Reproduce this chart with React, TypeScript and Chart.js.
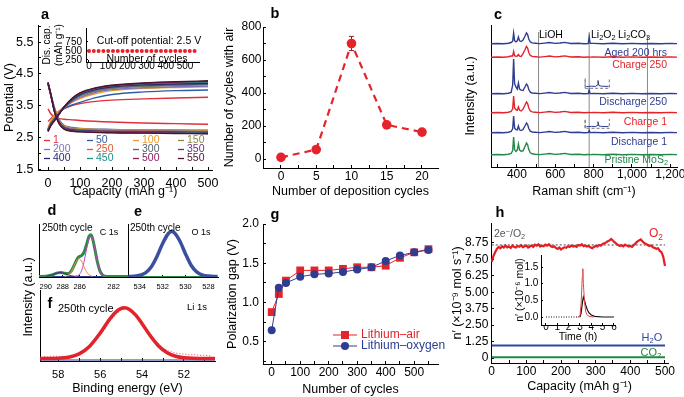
import React, { useEffect, useRef } from 'react';
import { Chart, registerables } from 'chart.js';

Chart.register(...registerables);

const FONT = "'Liberation Sans', Arial, Helvetica, sans-serif";
Chart.defaults.font.family = FONT;

const RED = '#e4232b';
const BLUE = '#2e3d8f';
const GREEN = '#23894a';

// ---------------- Panel a ----------------
const aCycles = ['1', '50', '100', '150', '200', '250', '300', '350', '400', '450', '500', '550'];
const aColors = ['#e0303a', '#2f5f9f', '#f39a2a', '#8c8a45', '#7f72b8', '#d65a32', '#56636e', '#6b2f7f', '#1f2d6e', '#1f8f86', '#8b1d5f', '#4d1230'];
const aChargeX = [0, 10, 25, 50, 75, 100, 150, 200, 300, 400, 500];
const aCh1 = [3.0, 3.1, 3.25, 3.4, 3.5, 3.56, 3.63, 3.67, 3.71, 3.74, 3.76];
const aCh50 = [2.75, 2.95, 3.15, 3.4, 3.52, 3.6, 3.75, 3.85, 3.93, 3.97, 3.99];
const aCh100 = [2.8, 3.05, 3.25, 3.45, 3.6, 3.72, 3.88, 3.97, 4.04, 4.07, 4.09];
const aCh150 = [2.75, 2.98, 3.18, 3.45, 3.65, 3.8, 3.95, 4.03, 4.1, 4.13, 4.15];
const aCh200 = [2.74, 2.95, 3.15, 3.42, 3.62, 3.76, 3.92, 4.0, 4.06, 4.09, 4.11];
const aCh250 = [2.72, 2.93, 3.13, 3.45, 3.68, 3.84, 4.0, 4.08, 4.15, 4.18, 4.2];
const aCh300 = [2.73, 2.94, 3.14, 3.44, 3.66, 3.82, 3.98, 4.06, 4.12, 4.15, 4.17];
const aCh350 = [2.71, 2.91, 3.11, 3.45, 3.7, 3.87, 4.03, 4.11, 4.18, 4.21, 4.23];
const aCh400 = [2.72, 2.92, 3.12, 3.44, 3.68, 3.85, 4.01, 4.09, 4.15, 4.18, 4.2];
const aCh450 = [2.7, 2.9, 3.1, 3.45, 3.71, 3.88, 4.04, 4.12, 4.19, 4.22, 4.24];
const aCh500 = [2.69, 2.89, 3.09, 3.45, 3.72, 3.89, 4.05, 4.13, 4.2, 4.24, 4.26];
const aCh550 = [2.68, 2.88, 3.08, 3.45, 3.72, 3.9, 4.06, 4.14, 4.21, 4.25, 4.28];
const aCharge = [aCh1, aCh50, aCh100, aCh150, aCh200, aCh250, aCh300, aCh350, aCh400, aCh450, aCh500, aCh550];

const aDischargeX = [0, 8, 20, 35, 50, 75, 100, 200, 300, 400, 500];
const aDc1 = [3.4, 3.25, 3.14, 3.09, 3.07, 3.05, 3.03, 2.98, 2.95, 2.93, 2.91];
const aDc50 = [4.2, 3.9, 3.45, 3.05, 2.88, 2.81, 2.78, 2.75, 2.74, 2.73, 2.72];
const aDc100 = [4.15, 3.85, 3.4, 3.02, 2.86, 2.79, 2.77, 2.74, 2.73, 2.72, 2.71];
const aDc150 = [4.2, 3.88, 3.4, 3.0, 2.84, 2.77, 2.75, 2.72, 2.71, 2.7, 2.69];
const aDc200 = [4.18, 3.86, 3.38, 2.99, 2.83, 2.76, 2.74, 2.71, 2.7, 2.69, 2.68];
const aDc250 = [4.2, 3.87, 3.37, 2.98, 2.82, 2.75, 2.73, 2.7, 2.69, 2.68, 2.67];
const aDc300 = [4.2, 3.86, 3.36, 2.97, 2.81, 2.74, 2.72, 2.69, 2.68, 2.67, 2.66];
const aDc350 = [4.22, 3.88, 3.35, 2.96, 2.8, 2.73, 2.71, 2.68, 2.67, 2.66, 2.65];
const aDc400 = [4.21, 3.87, 3.34, 2.95, 2.79, 2.72, 2.7, 2.67, 2.66, 2.65, 2.64];
const aDc450 = [4.22, 3.88, 3.33, 2.94, 2.78, 2.71, 2.69, 2.66, 2.65, 2.64, 2.63];
const aDc500 = [4.22, 3.88, 3.32, 2.93, 2.77, 2.7, 2.68, 2.65, 2.64, 2.63, 2.62];
const aDc550 = [4.23, 3.89, 3.31, 2.92, 2.76, 2.69, 2.67, 2.64, 2.63, 2.62, 2.61];
const aDischarge = [aDc1, aDc50, aDc100, aDc150, aDc200, aDc250, aDc300, aDc350, aDc400, aDc450, aDc500, aDc550];

const aXTicks = [0, 50, 100, 150, 200, 250, 300, 350, 400, 450, 500];
const aXLabels = ['0', '', '100', '', '200', '', '300', '', '400', '', '500'];
const aYTicks = [1.5, 2, 2.5, 3, 3.5, 4, 4.5, 5, 5.5, 6];
const aYLabels = ['1.5', '', '2.5', '', '3.5', '', '4.5', '', '5.5', ''];

const aInsetCycles = [0, 25, 50, 75, 100, 125, 150, 175, 200, 225, 250, 275, 300, 325, 350, 375, 400, 425, 450, 475, 500, 525, 550];
const aInsetCap = [500, 500, 500, 500, 500, 500, 500, 500, 500, 500, 500, 500, 500, 500, 500, 500, 500, 500, 500, 500, 500, 500, 500];
const aInsetXTicks = [0, 100, 200, 300, 400, 500];
const aInsetXLabels = ['0', '100', '200', '300', '400', '500'];
const aInsetYTicks = [250, 500, 750];
const aInsetYLabels = ['250', '500', '750'];

// ---------------- Panel b ----------------
const bDeposition = [0, 5, 10, 15, 20];
const bCycles = [10, 57, 700, 207, 163];
const bErr = [0, 0, 43, 0, 0];
const bXTicks = [0, 2.5, 5, 7.5, 10, 12.5, 15, 17.5, 20];
const bXLabels = ['0', '', '5', '', '10', '', '15', '', '20'];
const bYTicks = [0, 100, 200, 300, 400, 500, 600, 700, 800];
const bYLabels = ['0', '', '200', '', '400', '', '600', '', '800'];

// ---------------- Panel c ----------------
const cShift = [265, 300, 330, 355, 370, 378, 383, 388, 395, 402, 408, 414, 422, 432, 442, 450, 456, 462, 470, 480, 495, 520, 545, 570, 600, 625, 650, 680, 720, 750, 772, 777, 782, 800, 850, 900, 950, 1000, 1050, 1100, 1150, 1200, 1235];
const cPristine = [12.3, 12.5, 12.2, 12.8, 13.5, 16.5, 30, 17.4, 15.6, 16.95, 23, 16.95, 15.85, 16.2, 20.4, 24, 22.2, 17.4, 14.2, 13.2, 12.8, 12.4, 12.9, 13.5, 12.6, 13, 13.6, 12.5, 12.7, 12.3, 12.5, 12.5, 12.4, 12.6, 12.3, 12.7, 12.3, 12.6, 12.2, 12.5, 12.3, 12.6, 12.4];
const cDischarge1 = [34.3, 34.5, 34.2, 34.8, 35.5, 38.25, 51, 39.1, 37.4, 37.15, 41, 37.15, 36.45, 37.5, 41, 44, 42.5, 38.5, 35.8, 35, 34.8, 34.4, 34.9, 35.5, 34.6, 35, 35.6, 34.5, 34.7, 34.3, 34.5, 36.5, 34.4, 34.6, 34.3, 34.7, 34.3, 34.6, 34.2, 34.5, 34.3, 34.6, 34.4];
const cCharge1 = [54.3, 54.5, 54.2, 54.8, 55.5, 58.25, 71, 59.1, 57.4, 56.7, 60, 56.7, 56.1, 57.85, 61.7, 65, 63.35, 58.95, 56, 55.1, 54.8, 54.4, 54.9, 55.5, 54.6, 55, 55.6, 54.5, 54.7, 54.3, 54.5, 54.5, 54.4, 54.6, 54.3, 54.7, 54.3, 54.6, 54.2, 54.5, 54.3, 54.6, 54.4];
const cDischarge250 = [73.3, 73.5, 73.2, 73.8, 74.5, 81.75, 108, 83.5, 80, 77.95, 84, 77.95, 76.85, 76.5, 80, 83, 81.5, 77.5, 74.8, 74, 73.8, 73.4, 73.9, 74.5, 73.6, 74, 74.6, 73.5, 73.7, 73.3, 73.5, 77, 73.4, 73.6, 73.3, 73.7, 73.3, 73.6, 73.2, 73.5, 73.3, 73.6, 73.4];
const cCharge250 = [109.8, 110, 109.7, 110.3, 111, 111, 115.5, 111.3, 110.7, 110.85, 112.5, 110.85, 110.55, 113.35, 117.2, 120.5, 118.85, 114.45, 111.5, 110.6, 110.3, 109.9, 110.4, 111, 110.1, 110.5, 111.1, 110, 110.2, 109.8, 110, 109.9, 109.9, 110.1, 109.8, 110.2, 109.8, 110.1, 109.7, 110, 109.8, 110.1, 109.9];
const cAged = [123.3, 123.5, 123.2, 123.8, 124.5, 125.75, 134, 126.3, 125.2, 126.15, 130, 126.15, 125.45, 126.85, 130.7, 134, 132.35, 127.95, 125, 124.1, 123.8, 123.4, 123.9, 124.5, 123.6, 124, 124.6, 123.5, 123.7, 123.3, 123.5, 130, 123.6, 123.6, 123.3, 123.7, 123.3, 123.6, 123.2, 123.5, 123.3, 123.6, 123.4];
const cRefShift = [513, 777, 1081];
const cRefTop = [135, 135, 131];
const cBoxX = [756, 882, 882, 756, 756];
const cBox1Y = [78.7, 78.7, 88.7, 88.7, 78.7];
const cBox2Y = [38.7, 38.7, 48, 48, 38.7];
const cMiniX = [762, 790, 812, 818, 823, 828, 840, 878];
const cMini1 = [80.5, 80.8, 80.6, 82, 86.5, 81.5, 80.8, 80.6];
const cMini2 = [40.3, 40.6, 40.4, 41.5, 45.3, 41, 40.6, 40.4];
const cXTicks = [300, 400, 500, 600, 700, 800, 900, 1000, 1100, 1200];
const cXLabels = ['', '400', '', '600', '', '800', '', '1,000', '', '1,200'];

// ---------------- Panel d ----------------
const dEnergy = [290.8, 290, 289.5, 289, 288.6, 288.2, 287.8, 287.4, 287, 286.6, 286.3, 286.1, 285.8, 285.5, 285.2, 284.9, 284.7, 284.5, 284.2, 283.9, 283.6, 283.3, 283, 282.5, 282, 281, 280.3];
const dTotal = [0.1, 0.2, 0.95, 2.45, 3.65, 3.96, 3.25, 2.85, 5.44, 12.2, 17.4, 19.6, 20.9, 24.0, 31.7, 40.0, 41.7, 38.65, 27.0, 14.1, 5.4, 1.56, 0.34, 0.1, 0, 0, 0];
const dOrangeX = [287.8, 287.4, 287, 286.6, 286.3, 286.1, 285.8, 285.5, 285.2, 284.9, 284.7, 284.5];
const dOrange = [0.15, 1.07, 4.7, 11.9, 16.8, 18, 15.5, 9.9, 4.7, 1.6, 0.68, 0.25];
const dMagentaX = [286.6, 286.3, 286.1, 285.8, 285.5, 285.2, 284.9, 284.7, 284.5, 284.2, 283.9, 283.6, 283.3, 283];
const dMagenta = [0.1, 0.57, 1.56, 5.4, 14.1, 27, 38.4, 41, 38.4, 27, 14.1, 5.4, 1.56, 0.34];
const dPurpleX = [290, 289.5, 289, 288.6, 288.2, 287.8, 287.4, 287, 286.6, 286.3];
const dPurple = [0.22, 0.95, 2.45, 3.65, 3.96, 3.1, 1.78, 0.74, 0.22, 0.07];
const dBaseX = [290.8, 280.3];
const dBase = [0, 0];
const dXTicks = [290, 288, 286, 284, 282];
const dXLabels = ['290', '288', '286', '', '282'];

// ---------------- Panel e ----------------
const eEnergy = [535, 534.5, 534, 533.5, 533, 532.5, 532, 531.5, 531.2, 531, 530.5, 530, 529.5, 529, 528.5, 528, 527.2];
const eO1s = [0, 0.3, 1.2, 3.6, 9.5, 20, 33, 43, 45, 44, 35.5, 22.6, 11, 4.4, 1.4, 0.4, 0];
const eBaseX = [535, 527.2];
const eBase = [0, 0];
const eXTicks = [534, 532, 530, 528];
const eXLabels = ['534', '532', '530', '528'];

// ---------------- Panel f ----------------
const fFitX = [58.9, 58, 57.5, 57, 56.5, 56, 55.6, 55.3, 55, 54.85, 54.6, 54.3, 54, 53.6, 53.2, 52.8, 52.4, 52, 51, 50.5];
const fFit = [1.5, 1.8, 2.8, 6.1, 13.8, 26.9, 39.3, 47.1, 51.6, 52.2, 50.6, 44.8, 36.3, 24.0, 13.8, 7.2, 3.7, 2.2, 1.5, 1.5];
const fRawX = [58.75, 58.5, 58.25, 58, 57.75, 57.5, 57.25, 57, 56.75, 56.5, 56.25, 56, 55.75, 55.5, 55.25, 55, 54.75, 54.5, 54.25, 54, 53.75, 53.5, 53.25, 53, 52.75, 52.5, 52.25, 52, 51.75, 51.5, 51.25, 51, 50.75];
const fRaw = [3.6, 3.2, 3.8, 3.4, 3.6, 3.9, 4.5, 5.8, 8.2, 12.8, 18.5, 25, 32, 40, 46, 50, 51, 49, 44, 37, 30, 23, 17, 12, 9, 7.5, 6.5, 6, 5.2, 5.5, 4.6, 4.8, 4.2];
const fBaseX = [58.9, 50.5];
const fBase = [0, 0];
const fXTicks = [58, 57, 56, 55, 54, 53, 52, 51];
const fXLabels = ['58', '', '56', '', '54', '', '52', ''];

// ---------------- Panel g ----------------
const gCycles = [0, 25, 50, 100, 150, 200, 250, 300, 350, 400, 450, 500, 550];
const gAir = [0.88, 1.11, 1.28, 1.41, 1.41, 1.41, 1.43, 1.45, 1.45, 1.47, 1.57, 1.64, 1.68];
const gOxygen = [0.65, 1.19, 1.25, 1.33, 1.36, 1.37, 1.39, 1.42, 1.45, 1.53, 1.6, 1.64, 1.67];
const gXTicks = [0, 50, 100, 150, 200, 250, 300, 350, 400, 450, 500, 550];
const gXLabels = ['0', '', '100', '', '200', '', '300', '', '400', '', '500', ''];
const gYTicks = [0.25, 0.5, 0.75, 1, 1.25, 1.5, 1.75, 2];
const gYLabels = ['', '0.5', '', '1.0', '', '1.5', '', '2.0'];

// ---------------- Panel h ----------------
const hO2X = [0, 5, 10, 15, 20, 25, 30, 35, 40, 45, 50, 55, 60, 65, 70, 75, 80, 85, 90, 95, 100, 105, 110, 115, 120, 125, 130, 135, 140, 145, 150, 155, 160, 165, 170, 175, 180, 185, 190, 195, 200, 205, 210, 215, 220, 225, 230, 235, 240, 245, 250, 255, 260, 265, 270, 275, 280, 285, 290, 295, 300, 305, 310, 315, 320, 325, 330, 335, 340, 345, 350, 355, 360, 365, 370, 375, 380, 385, 390, 395, 400, 405, 410, 415, 420, 425, 430, 435, 440, 445, 450, 455, 460, 465, 470, 475, 480, 485, 490, 495, 500];
const hO2 = [
  7.3, 7.75, 8.05, 8.3, 8.45, 8.35, 8.5, 8.4, 8.55, 8.42,
  8.48, 8.38, 8.55, 8.45, 8.4, 8.52, 8.47, 8.58, 8.43, 8.5,
  8.55, 8.4, 8.48, 8.56, 8.45, 8.62, 8.55, 8.65, 8.48, 8.55,
  8.5, 8.62, 8.55, 8.66, 8.52, 8.45, 8.5, 8.38, 8.3, 8.4,
  8.25, 8.35, 8.42, 8.38, 8.5, 8.45, 8.55, 8.48, 8.52, 8.45,
  8.6, 8.55, 8.65, 8.5, 8.56, 8.48, 8.52, 8.42, 8.35, 8.45,
  8.52, 8.48, 8.6, 8.55, 8.68, 8.72, 8.8, 8.88, 8.95, 9.05,
  8.92, 8.8, 8.68, 8.6, 8.52, 8.58, 8.5, 8.62, 8.55, 8.48,
  8.52, 8.45, 8.6, 8.72, 8.85, 8.95, 9.02, 8.88, 8.75, 8.68,
  8.6, 8.52, 8.56, 8.42, 8.38, 8.3, 8.35, 8.15, 8.05, 7.7,
  7.0,
];
const hRefX = [0, 500];
const hRef = [8.6, 8.6];
const hGasX = [0, 100, 200, 300, 400, 500];
const hH2O = [0.95, 0.96, 0.95, 0.95, 0.96, 0.95];
const hCO2 = [0.05, 0.05, 0.06, 0.05, 0.05, 0.05];
const hXTicks = [0, 50, 100, 150, 200, 250, 300, 350, 400, 450, 500];
const hXLabels = ['0', '', '100', '', '200', '', '300', '', '400', '', '500'];
const hYTicks = [0, 1.25, 2.5, 3.75, 5, 6.25, 7.5, 8.75];
const hYLabels = ['0', '1.25', '2.50', '3.75', '5.00', '6.25', '7.50', '8.75'];

const hiRedX = [2.8, 3.0, 3.1, 3.2, 3.25, 3.3, 3.4, 3.5, 3.6, 3.8, 4.2];
const hiRed = [0, 0.03, 0.4, 1.2, 1.45, 1.0, 0.45, 0.18, 0.07, 0.02, 0];
const hiDotX = [0, 3.0];
const hiDot = [0, 0];
const hiBlackX = [3.0, 3.1, 3.2, 3.3, 3.4, 3.5, 3.65, 3.8, 4.0, 4.3, 5, 6];
const hiBlack = [0, 0.12, 0.4, 0.6, 0.5, 0.36, 0.22, 0.12, 0.06, 0.02, 0, 0];
const hiXTicks = [0, 1, 2, 3, 4, 5, 6];
const hiXLabels = ['0', '1', '2', '3', '4', '5', '6'];
const hiYTicks = [0, 0.5, 1, 1.5];
const hiYLabels = ['0.0', '0.5', '1.0', '1.5'];

// ---------------- helpers ----------------
type Box = { x: number; y: number; w: number; h: number; L: number; T: number; R: number; B: number };
type Ax = {
  min: number; max: number; ticks: number[]; labels?: string[]; size?: number; pad?: number; tl?: number;
  reverse?: boolean; title?: string | string[]; tsize?: number; tpad?: number;
};

const pts = (xs: number[], ys: number[]) => xs.map((x, i) => ({ x, y: ys[i] })).sort((a, b) => a.x - b.x);

function ln(xs: number[], ys: number[], color: string, width: number, extra: any = {}) {
  return { data: pts(xs, ys), borderColor: color, backgroundColor: color, borderWidth: width, pointRadius: 0, tension: 0, fill: false, ...extra };
}

function axis(s: Ax, horiz: boolean, size: number) {
  return {
    type: 'linear',
    position: horiz ? 'bottom' : 'left',
    min: s.min,
    max: s.max,
    reverse: !!s.reverse,
    afterBuildTicks: (sc: any) => { sc.ticks = s.ticks.map((v) => ({ value: v })); },
    afterFit: (sc: any) => {
      if (horiz) sc.height = size; else sc.width = size;
      sc.paddingLeft = 0; sc.paddingRight = 0; sc.paddingTop = 0; sc.paddingBottom = 0;
    },
    grid: { display: s.ticks.length > 0, drawOnChartArea: false, drawTicks: true, tickLength: s.tl ?? -3, color: '#000', lineWidth: 1 },
    border: { display: true, color: '#000', width: 1 },
    ticks: {
      display: !!s.labels, autoSkip: false, maxRotation: 0, minRotation: 0, padding: s.pad ?? 4, color: '#000',
      font: { size: s.size ?? 12, family: FONT },
      callback: (_v: any, i: number) => (s.labels ? s.labels[i] ?? '' : ''),
    },
    title: s.title
      ? { display: true, text: s.title, color: '#000', font: { size: s.tsize ?? 12.5, family: FONT }, padding: horiz ? { top: 0, bottom: s.tpad ?? 0 } : { top: s.tpad ?? 0, bottom: 0 } }
      : { display: false },
  };
}

function cfg(box: Box, datasets: any[], xs: Ax, ys: Ax, plugins: any[] = []): any {
  return {
    type: 'line',
    data: { datasets },
    options: {
      responsive: false,
      maintainAspectRatio: false,
      animation: false,
      events: [],
      devicePixelRatio: 1,
      layout: { padding: { left: 0, top: box.T - box.y, right: box.x + box.w - box.R, bottom: 0 } },
      plugins: { legend: { display: false }, tooltip: { enabled: false }, title: { display: false } },
      scales: { x: axis(xs, true, box.y + box.h - box.B), y: axis(ys, false, box.L - box.x) },
    },
    plugins,
  };
}

function ChartBox({ box, build }: { box: Box; build: (b: Box) => any }) {
  const ref = useRef<HTMLCanvasElement | null>(null);
  useEffect(() => {
    if (!ref.current) return;
    const ch = new Chart(ref.current, build(box));
    return () => ch.destroy();
  }, []);
  return (
    <canvas ref={ref} width={box.w} height={box.h}
      style={{ position: 'absolute', left: box.x, top: box.y, width: box.w, height: box.h }} />
  );
}

// ---------------- boxes ----------------
const BOX_A: Box = { x: 0, y: 0, w: 225, h: 200, L: 38, T: 25, R: 212, B: 170 };
const BOX_AI: Box = { x: 40, y: 22, w: 165, h: 52, L: 86, T: 28, R: 199, B: 62 };
const BOX_B: Box = { x: 222, y: 0, w: 225, h: 200, L: 263, T: 27, R: 438, B: 168 };
const BOX_C: Box = { x: 455, y: 0, w: 229, h: 200, L: 491, T: 25, R: 677, B: 167 };
const BOX_D: Box = { x: 20, y: 205, w: 110, h: 90, L: 39, T: 224, R: 128, B: 277 };
const BOX_E: Box = { x: 120, y: 205, w: 100, h: 90, L: 128, T: 224, R: 218, B: 277 };
const BOX_F: Box = { x: 20, y: 285, w: 200, h: 112, L: 40, T: 290, R: 215, B: 361 };
const BOX_G: Box = { x: 222, y: 205, w: 225, h: 192, L: 263, T: 224, R: 438, B: 364 };
const BOX_H: Box = { x: 445, y: 205, w: 239, h: 192, L: 491, T: 223, R: 668, B: 363 };
const BOX_HI: Box = { x: 505, y: 250, w: 115, h: 95, L: 541, T: 255, R: 615, B: 325 };

const A_LEG_ROWS = [140.5, 149.5, 158.5];
const A_LEG_COLS = [44, 87, 133, 178];

const aLegendPlugin = {
  id: 'aLegend',
  afterDraw(chart: any) {
    const ctx = chart.ctx;
    ctx.save();
    ctx.font = `10.5px ${FONT}`;
    ctx.textBaseline = 'middle';
    aCycles.forEach((lab, i) => {
      const x = A_LEG_COLS[i % 4];
      const y = A_LEG_ROWS[Math.floor(i / 4)];
      ctx.strokeStyle = aColors[i];
      ctx.lineWidth = 1.3;
      ctx.beginPath(); ctx.moveTo(x, y); ctx.lineTo(x + 6, y); ctx.stroke();
      ctx.fillStyle = aColors[i];
      ctx.fillText(lab, x + 9, y);
    });
    ctx.restore();
  },
};

const buildA = (box: Box) => {
  const ds: any[] = [];
  aCycles.forEach((_, i) => {
    ds.push(ln(aChargeX, aCharge[i], aColors[i], 1.4, { cubicInterpolationMode: 'monotone' }));
    ds.push(ln(aDischargeX, aDischarge[i], aColors[i], 1.4, { cubicInterpolationMode: 'monotone' }));
  });
  ds.reverse();
  return cfg(box, ds,
    { min: -31.25, max: 512.5, ticks: aXTicks, labels: aXLabels, size: 12.5, pad: 9, title: 'Capacity (mAh g⁻¹)', tpad: 0.5 },
    { min: 1.47, max: 6.037, ticks: aYTicks, labels: aYLabels, size: 12.5, pad: 7.5, title: 'Potential (V)', tpad: 2.5 },
    [aLegendPlugin]);
};

const buildAI = (box: Box) => cfg(box,
  [ln(aInsetCycles, aInsetCap, '#e8202a', 0, { showLine: false, pointRadius: 2, pointBorderWidth: 0, pointBackgroundColor: '#e8202a' })],
  { min: -15.6, max: 573, ticks: aInsetXTicks, labels: aInsetXLabels, size: 10, pad: 0, tl: -2 },
  { min: 194, max: 1139, ticks: aInsetYTicks, labels: aInsetYLabels, size: 10, pad: 6, tl: -2, title: ['Dis. cap.', '(mAh g⁻¹)'], tsize: 10, tpad: 1 });

const bErrPlugin = {
  id: 'bErr',
  beforeDatasetsDraw(chart: any) {
    const { ctx, scales } = chart;
    ctx.save();
    ctx.strokeStyle = '#a0141c';
    ctx.lineWidth = 1;
    bDeposition.forEach((d, i) => {
      if (!bErr[i]) return;
      const px = scales.x.getPixelForValue(d);
      const t = scales.y.getPixelForValue(bCycles[i] + bErr[i]);
      const b = scales.y.getPixelForValue(bCycles[i] - bErr[i]);
      ctx.beginPath();
      ctx.moveTo(px, t); ctx.lineTo(px, b);
      ctx.moveTo(px - 2.5, t); ctx.lineTo(px + 2.5, t);
      ctx.moveTo(px - 2.5, b); ctx.lineTo(px + 2.5, b);
      ctx.stroke();
    });
    ctx.restore();
  },
};

const buildB = (box: Box) => cfg(box,
  [ln(bDeposition, bCycles, RED, 2.2, { borderDash: [7, 5], pointRadius: 4.8, pointBorderWidth: 0, pointBackgroundColor: RED })],
  { min: -2.55, max: 22.27, ticks: bXTicks, labels: bXLabels, size: 12, pad: 4, title: 'Number of deposition cycles', tpad: 0.5 },
  { min: -54.5, max: 800, ticks: bYTicks, labels: bYLabels, size: 12, pad: 4.5, title: 'Number of cycles with air', tpad: 0.5 },
  [bErrPlugin]);

const buildC = (box: Box) => {
  const ds: any[] = [
    ln(cShift, cPristine, GREEN, 1.4),
    ln(cShift, cDischarge1, BLUE, 1.4),
    ln(cShift, cCharge1, RED, 1.4),
    ln(cShift, cDischarge250, BLUE, 1.4),
    ln(cShift, cCharge250, RED, 1.4),
    ln(cShift, cAged, BLUE, 1.4),
    ln(cMiniX, cMini1, BLUE, 1),
    ln(cMiniX, cMini2, BLUE, 1),
    ln(cBoxX, cBox1Y, '#666', 0.9, { borderDash: [3, 2] }),
    ln(cBoxX, cBox2Y, '#666', 0.9, { borderDash: [3, 2] }),
  ];
  cRefShift.forEach((s, i) => ds.push(ln([s, s], [0, cRefTop[i]], '#8a8a8a', 1)));
  return cfg(box, ds,
    { min: 265, max: 1235, ticks: cXTicks, labels: cXLabels, size: 12, pad: 3.5, title: 'Raman shift (cm⁻¹)', tpad: 0.5 },
    { min: 0, max: 142, ticks: [], title: 'Intensity (a.u.)', tpad: 8 });
};

const buildD = (box: Box) => cfg(box,
  [
    ln(dOrangeX, dOrange, '#f08a3c', 1, { cubicInterpolationMode: 'monotone' }),
    ln(dMagentaX, dMagenta, '#c43fbf', 1, { cubicInterpolationMode: 'monotone' }),
    ln(dPurpleX, dPurple, '#4a2a8a', 1, { cubicInterpolationMode: 'monotone' }),
    ln(dEnergy, dTotal, '#2b8a45', 3, { cubicInterpolationMode: 'monotone' }),
    ln(dBaseX, dBase, BLUE, 1.2),
  ],
  { min: 280.3, max: 290.8, reverse: true, ticks: dXTicks, labels: dXLabels, size: 7.5, pad: 7, tl: -2 },
  { min: -0.5, max: 52.5, ticks: [] });

const buildE = (box: Box) => cfg(box,
  [
    ln(eEnergy, eO1s, '#3a4f9f', 3.5, { cubicInterpolationMode: 'monotone' }),
    ln(eBaseX, eBase, '#2b8a45', 1),
  ],
  { min: 527.16, max: 535.03, reverse: true, ticks: eXTicks, labels: eXLabels, size: 7.5, pad: 7, tl: -2 },
  { min: -0.5, max: 52.5, ticks: [] });

const buildF = (box: Box) => cfg(box,
  [
    ln(fFitX, fFit, '#e3232c', 3.5, { cubicInterpolationMode: 'monotone' }),
    ln(fRawX, fRaw, '#e4607a', 1.2, { borderDash: [1, 2] }),
    ln(fBaseX, fBase, BLUE, 1.2),
  ],
  { min: 50.52, max: 58.87, reverse: true, ticks: fXTicks, labels: fXLabels, size: 11, pad: 10, tl: -3, title: 'Binding energy (eV)', tpad: 0.5 },
  { min: -1, max: 70, ticks: [] });

const G_LEG = { rows: [130, 141], x0: 111, x1: 135, xm: 123, xt: 139 };
const gLegendPlugin = {
  id: 'gLegend',
  afterDraw(chart: any) {
    const ctx = chart.ctx;
    ctx.save();
    ctx.font = `12px ${FONT}`;
    ctx.textBaseline = 'middle';
    const items = [
      { text: 'Lithium–air', color: RED, sq: true },
      { text: 'Lithium–oxygen', color: BLUE, sq: false },
    ];
    items.forEach((it, i) => {
      const y = G_LEG.rows[i];
      ctx.strokeStyle = it.color; ctx.fillStyle = it.color; ctx.lineWidth = 1;
      ctx.beginPath(); ctx.moveTo(G_LEG.x0, y); ctx.lineTo(G_LEG.x1, y); ctx.stroke();
      ctx.beginPath();
      if (it.sq) ctx.rect(G_LEG.xm - 4, y - 4, 8, 8); else ctx.arc(G_LEG.xm, y, 4, 0, Math.PI * 2);
      ctx.fill();
      ctx.fillText(it.text, G_LEG.xt, y);
    });
    ctx.restore();
  },
};

const buildG = (box: Box) => cfg(box,
  [
    ln(gCycles, gOxygen, BLUE, 1, { pointRadius: 4, pointBorderWidth: 0, pointBackgroundColor: BLUE }),
    ln(gCycles, gAir, RED, 1, { pointStyle: 'rect', pointRadius: 5.5, pointBorderWidth: 0, pointBackgroundColor: RED }),
  ],
  { min: -30.5, max: 583.5, ticks: gXTicks, labels: gXLabels, size: 12, pad: 4.8, title: 'Number of cycles', tpad: 0 },
  { min: 0.22, max: 2.0, ticks: gYTicks, labels: gYLabels, size: 12, pad: 7, title: 'Polarization gap (V)', tpad: 3.5 },
  [gLegendPlugin]);

const buildH = (box: Box) => cfg(box,
  [
    ln(hO2X, hO2, '#e31e24', 2.2),
    ln(hRefX, hRef, '#444', 1, { borderDash: [2, 2] }),
    ln(hGasX, hH2O, '#3149a0', 2),
    ln(hGasX, hCO2, '#1f8a43', 2),
  ],
  { min: -2, max: 508.7, ticks: hXTicks, labels: hXLabels, size: 12, pad: 4.2, title: 'Capacity (mAh g⁻¹)', tpad: 2.5 },
  { min: -0.38, max: 10.27, ticks: hYTicks, labels: hYLabels, size: 12, pad: 5.7, title: 'n′ (×10⁻⁹ mol s⁻¹)', tpad: 5.5 });

const buildHI = (box: Box) => cfg(box,
  [
    ln(hiRedX, hiRed, '#e0474c', 1),
    ln(hiBlackX, hiBlack, '#111', 1.2),
    ln(hiDotX, hiDot, '#111', 1.2, { borderDash: [1, 1.5] }),
  ],
  { min: -0.44, max: 6.09, ticks: hiXTicks, labels: hiXLabels, size: 10, pad: -1.5, tl: -2, title: 'Time (h)', tsize: 10.5, tpad: 1.7 },
  { min: -0.24, max: 1.86, ticks: hiYTicks, labels: hiYLabels, size: 10, pad: 4.7, tl: -2, title: 'n′ (×10⁻⁶ mol)', tsize: 10.5, tpad: 8.7 });

// ---------------- text overlay ----------------
type LabelProps = { x: number; y: number; a?: 'l' | 'c' | 'r'; s?: number; c?: string; b?: boolean; rot?: boolean; children: React.ReactNode };
function Label({ x, y, a = 'c', s = 12, c = '#000', b = false, rot = false, children }: LabelProps) {
  const tx = a === 'l' ? '0%' : a === 'r' ? '-100%' : '-50%';
  return (
    <div style={{
      position: 'absolute', left: x, top: y, transform: `translate(${tx}, -50%)${rot ? ' rotate(-90deg)' : ''}`,
      fontSize: s, color: c, fontWeight: b ? 'bold' : 'normal', lineHeight: 1, whiteSpace: 'nowrap', fontFamily: FONT,
    }}>{children}</div>
  );
}
const Sub = ({ children }: { children: React.ReactNode }) => (
  <span style={{ fontSize: '0.7em', position: 'relative', top: '0.3em' }}>{children}</span>
);
const Sup = ({ children }: { children: React.ReactNode }) => (
  <span style={{ fontSize: '0.7em', position: 'relative', top: '-0.4em' }}>{children}</span>
);

export default function App() {
  return (
    <div style={{ position: 'fixed', left: 0, top: 0, width: 684, height: 397, background: '#fff', overflow: 'hidden', fontFamily: FONT }}>
      <ChartBox box={BOX_A} build={buildA} />
      <ChartBox box={BOX_AI} build={buildAI} />
      <ChartBox box={BOX_B} build={buildB} />
      <ChartBox box={BOX_C} build={buildC} />
      <ChartBox box={BOX_D} build={buildD} />
      <ChartBox box={BOX_E} build={buildE} />
      <ChartBox box={BOX_F} build={buildF} />
      <ChartBox box={BOX_G} build={buildG} />
      <ChartBox box={BOX_H} build={buildH} />
      <ChartBox box={BOX_HI} build={buildHI} />

      <Label x={45} y={14} s={14.5} b>a</Label>
      <Label x={275} y={13} s={14.5} b>b</Label>
      <Label x={498} y={14} s={14.5} b>c</Label>
      <Label x={52} y={210} s={14.5} b>d</Label>
      <Label x={138} y={211} s={14.5} b>e</Label>
      <Label x={50} y={303} s={14.5} b>f</Label>
      <Label x={275} y={214} s={14.5} b>g</Label>
      <Label x={500} y={212} s={14.5} b>h</Label>

      <Label x={149} y={40} s={10.5}>Cut-off potential: 2.5 V</Label>
      <Label x={147} y={57.5} s={10.5}>Number of cycles</Label>

      <Label x={539} y={34} a="l" s={10.5}>LiOH</Label>
      <Label x={591} y={34} a="l" s={10.5}>Li<Sub>2</Sub>O<Sub>2</Sub></Label>
      <Label x={618} y={34} a="l" s={10.5}>Li<Sub>2</Sub>CO<Sub>3</Sub></Label>
      <Label x={667} y={51.5} a="r" s={10.5} c={BLUE}>Aged 200 hrs</Label>
      <Label x={667} y={63.5} a="r" s={10.5} c={RED}>Charge 250</Label>
      <Label x={667} y={100.5} a="r" s={10.5} c={BLUE}>Discharge 250</Label>
      <Label x={667} y={120.5} a="r" s={10.5} c={RED}>Charge 1</Label>
      <Label x={667} y={140.5} a="r" s={10.5} c={BLUE}>Discharge 1</Label>
      <Label x={668} y={158.5} a="r" s={10.5} c={GREEN}>Pristine MoS<Sub>2</Sub></Label>

      <Label x={42} y={228} a="l" s={10}>250th cycle</Label>
      <Label x={109} y={232} s={9}>C 1s</Label>
      <Label x={130} y={228} a="l" s={10}>250th cycle</Label>
      <Label x={201} y={232} s={9}>O 1s</Label>
      <Label x={58} y={307.5} a="l" s={11}>250th cycle</Label>
      <Label x={197} y={307} s={9.5}>Li 1s</Label>
      <Label x={28} y={297} s={12.5} rot>Intensity (a.u.)</Label>

      <Label x={494} y={233} a="l" s={10.5} c="#555">2e<Sup>−</Sup>/O<Sub>2</Sub></Label>
      <Label x={656} y={233} s={12} c={RED}>O<Sub>2</Sub></Label>
      <Label x={652} y={337} s={11} c="#3149a0">H<Sub>2</Sub>O</Label>
      <Label x={651} y={352} s={11} c="#1f8a43">CO<Sub>2</Sub></Label>
    </div>
  );
}
